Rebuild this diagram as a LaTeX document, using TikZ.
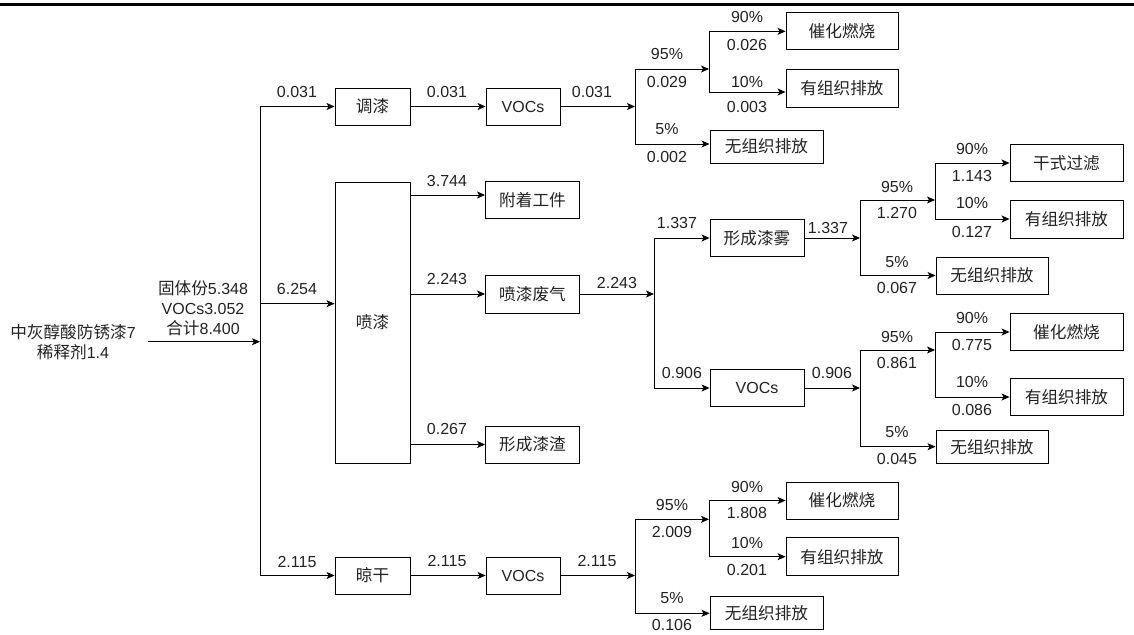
\documentclass[tikz,border=0pt]{standalone}
\usepackage{fontspec}
\setmainfont{Liberation Sans}
\newfontfamily\cjk[Scale=1.04]{Noto Sans CJK SC}
\newcommand{\zhtxt}[1]{{\cjk #1}}
\usetikzlibrary{arrows.meta}
\definecolor{txt}{HTML}{222222}
\begin{document}
\begin{tikzpicture}[x=1pt,y=-1pt,
  every node/.style={font=\fontsize{16}{20}\selectfont, text=txt},
  box/.style={draw=black,line width=0.9pt,inner sep=0pt,minimum height=37pt},
  lab/.style={inner sep=0pt},
  ln/.style={line width=0.9pt},
  arr/.style={line width=0.9pt,-{Stealth[length=8pt,width=7pt,inset=2pt]}}]
\useasboundingbox (0,0) rectangle (1134,634);
\draw[line width=3pt] (0,4.5) -- (1134,4.5);

% boxes
\node[box,minimum width=75pt] (tq) at (372.5,106.5) {\zhtxt{调漆}};
\node[box,minimum width=75pt,minimum height=281pt] (pq) at (372.5,322.5) {\zhtxt{喷漆}};
\node[box,minimum width=75pt] (lg) at (372.5,575.5) {\zhtxt{晾干}};
\node[box,minimum width=74pt] (v1) at (523,106.5) {VOCs};
\node[box,minimum width=74pt] (v3) at (523,575.5) {VOCs};
\node[box,minimum width=94pt] (fz) at (532.5,200) {\zhtxt{附着工件}};
\node[box,minimum width=94pt,minimum height=38pt] (fq) at (532.5,294) {\zhtxt{喷漆废气}};
\node[box,minimum width=94pt] (zz) at (532.5,444.5) {\zhtxt{形成漆渣}};
\node[box,minimum width=94pt] (qw) at (757,238) {\zhtxt{形成漆雾}};
\node[box,minimum width=94pt] (v2) at (757,388) {VOCs};
\node[box,minimum width=112pt] (ch1) at (842,31.3) {\zhtxt{催化燃烧}};
\node[box,minimum width=112pt,minimum height=38pt] (yz1) at (842,88) {\zhtxt{有组织排放}};
\node[box,minimum width=113pt,minimum height=33pt] (wz1) at (766.5,146.5) {\zhtxt{无组织排放}};
\node[box,minimum width=113pt] (gs) at (1066.5,163) {\zhtxt{干式过滤}};
\node[box,minimum width=113pt,minimum height=38pt] (yz2) at (1066.5,219) {\zhtxt{有组织排放}};
\node[box,minimum width=112pt] (wz2) at (992,275.5) {\zhtxt{无组织排放}};
\node[box,minimum width=113pt] (ch2) at (1066.5,332) {\zhtxt{催化燃烧}};
\node[box,minimum width=113pt] (yz3) at (1066.5,397) {\zhtxt{有组织排放}};
\node[box,minimum width=112pt,minimum height=33pt] (wz3) at (992,446.7) {\zhtxt{无组织排放}};
\node[box,minimum width=112pt] (ch3) at (842,500.5) {\zhtxt{催化燃烧}};
\node[box,minimum width=112pt,minimum height=38pt] (yz4) at (842,556.7) {\zhtxt{有组织排放}};
\node[box,minimum width=113pt,minimum height=33pt] (wz4) at (766.5,613.3) {\zhtxt{无组织排放}};

% input
\node[lab,align=center] (in) at (73,342) {\zhtxt{中灰醇酸防锈漆}7\\\zhtxt{稀释剂}1.4};
\node[lab,align=center] (mix) at (203,308) {\zhtxt{固体份}5.348\\VOCs3.052\\\zhtxt{合计}8.400};
\coordinate (m) at (260,341.7);
\coordinate (mt) at (260,106.5);
\coordinate (mp) at (260,303.7);
\coordinate (mb) at (260,575.5);
\draw[arr] (148,341.7) -- (m);
\draw[ln] (mt) -- (mb);
\draw[arr] (mt) -- (tq.west);
\draw[arr] (mp) -- (mp -| pq.west);
\draw[arr] (mb) -- (lg.west);

% top branch
\draw[arr] (tq) -- (v1);
\coordinate (s1t) at (635,69);
\coordinate (s1b) at (635,144);
\coordinate (s2t) at (709,31.3);
\coordinate (s2b) at (709,92);
\draw[arr] (v1.east) -- (v1.east -| s1t);
\draw[ln] (s1t) -- (s1b);
\draw[arr] (s1t) -- (s1t -| s2t);
\draw[arr] (s1b) -- (s1b -| wz1.west);
\draw[ln] (s2t) -- (s2b);
\draw[arr] (s2t) -- (ch1.west);
\draw[arr] (s2b) -- (s2b -| yz1.west);

% spray branch
\draw[arr] ([yshift=5pt]fz.west -| pq.east) -- ([yshift=5pt]fz.west);
\draw[arr] (fq.west -| pq.east) -- (fq.west);
\draw[arr] (zz.west -| pq.east) -- (zz.west);
\coordinate (s3t) at (654,238);
\coordinate (s3b) at (654,388);
\draw[arr] (fq.east) -- (fq.east -| s3t);
\draw[ln] (s3t) -- (s3b);
\draw[arr] (s3t) -- (qw.west);
\draw[arr] (s3b) -- (v2.west);
\coordinate (s4t) at (860,200);
\coordinate (s4b) at (860,275.5);
\coordinate (s5t) at (935,163);
\coordinate (s5b) at (935,219);
\draw[arr] (qw.east) -- (qw.east -| s4t);
\draw[ln] (s4t) -- (s4b);
\draw[arr] (s4t) -- (s4t -| s5t);
\draw[arr] (s4b) -- (wz2.west);
\draw[ln] (s5t) -- (s5b);
\draw[arr] (s5t) -- (gs.west);
\draw[arr] (s5b) -- (yz2.west);
\coordinate (s6t) at (860,350);
\coordinate (s6b) at (860,446.7);
\coordinate (s7t) at (935,332);
\coordinate (s7b) at (935,397);
\draw[arr] (v2.east) -- (v2.east -| s6t);
\draw[ln] (s6t) -- (s6b);
\draw[arr] (s6t) -- (s6t -| s7t);
\draw[arr] (s6b) -- (wz3.west);
\draw[ln] (s7t) -- (s7b);
\draw[arr] (s7t) -- (ch2.west);
\draw[arr] (s7b) -- (yz3.west);

% bottom branch
\draw[arr] (lg) -- (v3);
\coordinate (s8t) at (635,519.3);
\coordinate (s8b) at (635,613.3);
\coordinate (s9t) at (709,500.5);
\coordinate (s9b) at (709,556.7);
\draw[arr] (v3.east) -- (v3.east -| s8t);
\draw[ln] (s8t) -- (s8b);
\draw[arr] (s8t) -- (s8t -| s9t);
\draw[arr] (s8b) -- (wz4.west);
\draw[ln] (s9t) -- (s9b);
\draw[arr] (s9t) -- (ch3.west);
\draw[arr] (s9b) -- (yz4.west);

% labels
\node[lab] (a1) at (297,92) {0.031};
\node[lab] (a2) at (297,289) {6.254};
\node[lab] (a3) at (297,562) {2.115};
\node[lab] (b1) at (447,92) {0.031};
\node[lab] (b2) at (592,92) {0.031};
\node[lab] (b3) at (667,54) {95\%};
\node[lab] (b4) at (667,82) {0.029};
\node[lab] (b5) at (667,129) {5\%};
\node[lab] (b6) at (667,157) {0.002};
\node[lab] (b7) at (747,17) {90\%};
\node[lab] (b8) at (747,45) {0.026};
\node[lab] (b9) at (747,82) {10\%};
\node[lab] (b10) at (747,107) {0.003};
\node[lab] (c1) at (447,181) {3.744};
\node[lab] (c2) at (447,279) {2.243};
\node[lab] (c3) at (447,429) {0.267};
\node[lab] (c4) at (617,283) {2.243};
\node[lab] (c5) at (677,223) {1.337};
\node[lab] (c6) at (682,373) {0.906};
\node[lab] (d1) at (828,228) {1.337};
\node[lab] (d2) at (897,187) {95\%};
\node[lab] (d3) at (897,213) {1.270};
\node[lab] (d4) at (897,262) {5\%};
\node[lab] (d5) at (897,288) {0.067};
\node[lab] (d6) at (972,149) {90\%};
\node[lab] (d7) at (972,176) {1.143};
\node[lab] (d8) at (972,203) {10\%};
\node[lab] (d9) at (972,232) {0.127};
\node[lab] (e1) at (832,373) {0.906};
\node[lab] (e2) at (897,337) {95\%};
\node[lab] (e3) at (897,363) {0.861};
\node[lab] (e4) at (897,432) {5\%};
\node[lab] (e5) at (897,459) {0.045};
\node[lab] (e6) at (972,318) {90\%};
\node[lab] (e7) at (972,345) {0.775};
\node[lab] (e8) at (972,382) {10\%};
\node[lab] (e9) at (972,410) {0.086};
\node[lab] (f1) at (447,561) {2.115};
\node[lab] (f2) at (597,561) {2.115};
\node[lab] (f3) at (672,505) {95\%};
\node[lab] (f4) at (672,532) {2.009};
\node[lab] (f5) at (672,598) {5\%};
\node[lab] (f6) at (672,625) {0.106};
\node[lab] (f7) at (747,487) {90\%};
\node[lab] (f8) at (747,513) {1.808};
\node[lab] (f9) at (747,543) {10\%};
\node[lab] (f10) at (747,570) {0.201};
\end{tikzpicture}
\end{document}
